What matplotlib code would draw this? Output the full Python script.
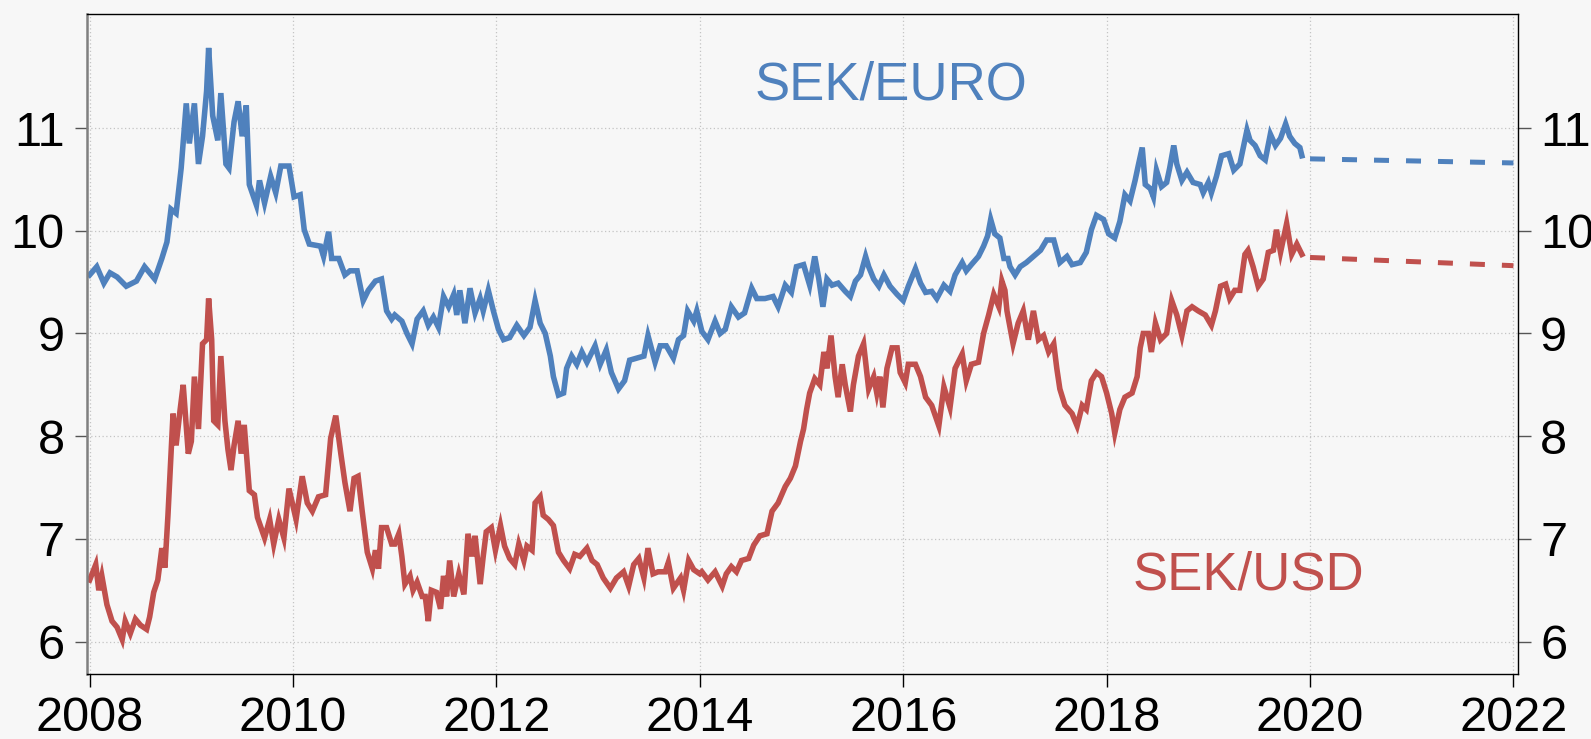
import matplotlib
matplotlib.use("Agg")
import matplotlib.pyplot as plt

# ---------------- data ----------------
eur_years = [
    2008.00, 2008.07, 2008.14, 2008.20, 2008.27, 2008.36, 2008.46, 2008.54, 2008.64, 2008.71,
    2008.76, 2008.80, 2008.85, 2008.90, 2008.95, 2008.98, 2009.03, 2009.07, 2009.11, 2009.15,
    2009.17, 2009.21, 2009.26, 2009.29, 2009.34, 2009.37, 2009.42, 2009.46, 2009.50, 2009.54,
    2009.57, 2009.64, 2009.67, 2009.72, 2009.78, 2009.83, 2009.88, 2009.96, 2010.01, 2010.07,
    2010.11, 2010.16, 2010.27, 2010.30, 2010.35, 2010.38, 2010.45, 2010.51, 2010.56, 2010.63,
    2010.69, 2010.74, 2010.81, 2010.87, 2010.92, 2010.97,
    2011.00, 2011.07, 2011.12, 2011.17, 2011.22, 2011.28, 2011.33, 2011.38, 2011.43, 2011.48,
    2011.53, 2011.58, 2011.61, 2011.64, 2011.69, 2011.74, 2011.79, 2011.84, 2011.87, 2011.92,
    2011.97, 2012.02, 2012.07, 2012.13, 2012.20, 2012.27, 2012.33, 2012.38, 2012.43, 2012.48,
    2012.53, 2012.56, 2012.61, 2012.66, 2012.69, 2012.74, 2012.79, 2012.84, 2012.89, 2012.97,
    2013.02, 2013.08, 2013.13, 2013.20, 2013.26, 2013.31, 2013.38, 2013.45, 2013.49, 2013.56,
    2013.61, 2013.67, 2013.74, 2013.79, 2013.84, 2013.88, 2013.94, 2013.97, 2014.00,
    2014.02, 2014.08, 2014.15, 2014.20, 2014.25, 2014.31, 2014.38, 2014.44, 2014.51, 2014.56,
    2014.64, 2014.72, 2014.77, 2014.84, 2014.90, 2014.95, 2015.02, 2015.05, 2015.08, 2015.13,
    2015.17, 2015.21, 2015.25, 2015.30, 2015.36, 2015.43, 2015.48, 2015.53, 2015.58, 2015.63,
    2015.66, 2015.71, 2015.76, 2015.81, 2015.87, 2015.94, 2016.00, 2016.05, 2016.12, 2016.17,
    2016.22, 2016.28, 2016.33, 2016.40, 2016.46, 2016.51, 2016.58, 2016.62, 2016.67, 2016.74,
    2016.79, 2016.83, 2016.86, 2016.90, 2016.95, 2016.99,
    2017.03, 2017.05, 2017.10, 2017.15, 2017.21, 2017.28, 2017.35, 2017.41, 2017.48, 2017.54,
    2017.61, 2017.66, 2017.74, 2017.80, 2017.85, 2017.90, 2017.97, 2018.02, 2018.08, 2018.13,
    2018.18, 2018.23, 2018.28, 2018.31, 2018.35, 2018.38, 2018.43, 2018.46, 2018.49, 2018.54,
    2018.59, 2018.62, 2018.66, 2018.69, 2018.74, 2018.79, 2018.85, 2018.92, 2018.95, 2019.00,
    2019.03, 2019.08, 2019.13, 2019.20, 2019.25, 2019.31, 2019.38, 2019.41, 2019.46, 2019.51,
    2019.56, 2019.61, 2019.66, 2019.71, 2019.76, 2019.80, 2019.85, 2019.90, 2019.92,
]
eur_values = [
    9.57, 9.65, 9.49, 9.59, 9.55, 9.46, 9.51, 9.65, 9.53, 9.73,
    9.89, 10.21, 10.17, 10.61, 11.24, 10.85, 11.24, 10.65, 10.92, 11.36,
    11.78, 11.12, 10.88, 11.34, 10.65, 10.61, 11.06, 11.26, 10.92, 11.22,
    10.45, 10.25, 10.49, 10.27, 10.53, 10.37, 10.63, 10.63, 10.33, 10.35,
    10.01, 9.87, 9.85, 9.75, 9.99, 9.73, 9.73, 9.57, 9.61, 9.61,
    9.32, 9.42, 9.51, 9.53, 9.22, 9.14,
    9.18, 9.12, 9.00, 8.90, 9.14, 9.22, 9.08, 9.16, 9.06, 9.36,
    9.26, 9.38, 9.18, 9.42, 9.10, 9.44, 9.20, 9.34, 9.22, 9.42,
    9.22, 9.04, 8.94, 8.96, 9.08, 8.98, 9.06, 9.32, 9.10, 9.00,
    8.78, 8.58, 8.40, 8.42, 8.66, 8.78, 8.70, 8.82, 8.72, 8.88,
    8.70, 8.84, 8.62, 8.46, 8.54, 8.74, 8.76, 8.78, 8.98, 8.72,
    8.88, 8.88, 8.76, 8.94, 8.98, 9.22, 9.12, 9.22, 9.10,
    9.02, 8.94, 9.12, 9.00, 9.04, 9.26, 9.16, 9.20, 9.44, 9.34,
    9.34, 9.36, 9.26, 9.47, 9.40, 9.65, 9.67, 9.57, 9.47, 9.75,
    9.53, 9.26, 9.53, 9.47, 9.49, 9.41, 9.36, 9.51, 9.57, 9.75,
    9.65, 9.53, 9.46, 9.57, 9.46, 9.38, 9.32, 9.46, 9.63, 9.49,
    9.40, 9.41, 9.34, 9.47, 9.41, 9.57, 9.69, 9.61, 9.67, 9.75,
    9.85, 9.95, 10.11, 9.97, 9.93, 9.73,
    9.73, 9.65, 9.57, 9.65, 9.69, 9.75, 9.81, 9.91, 9.91, 9.69,
    9.75, 9.67, 9.69, 9.79, 10.01, 10.15, 10.11, 9.97, 9.93, 10.09,
    10.35, 10.29, 10.49, 10.63, 10.81, 10.45, 10.41, 10.33, 10.59, 10.43,
    10.47, 10.61, 10.83, 10.65, 10.49, 10.57, 10.47, 10.45, 10.37, 10.47,
    10.37, 10.53, 10.73, 10.75, 10.59, 10.65, 10.98, 10.88, 10.83, 10.73,
    10.69, 10.94, 10.83, 10.90, 11.04, 10.92, 10.85, 10.81, 10.73,
]

usd_years = [
    2008.00, 2008.06, 2008.09, 2008.12, 2008.17, 2008.22, 2008.27, 2008.32, 2008.35, 2008.40,
    2008.45, 2008.50, 2008.56, 2008.59, 2008.63, 2008.67, 2008.71, 2008.74, 2008.77, 2008.79,
    2008.82, 2008.85, 2008.89, 2008.92, 2008.97, 2009.00, 2009.03, 2009.07, 2009.11, 2009.15,
    2009.17, 2009.20, 2009.22, 2009.26, 2009.29, 2009.33, 2009.36, 2009.39, 2009.42, 2009.46,
    2009.49, 2009.52, 2009.57, 2009.62, 2009.65, 2009.72, 2009.77, 2009.81, 2009.86, 2009.91,
    2009.96, 2010.03, 2010.09, 2010.14, 2010.19, 2010.25, 2010.32, 2010.37, 2010.42, 2010.47,
    2010.51, 2010.56, 2010.60, 2010.64, 2010.68, 2010.73, 2010.78, 2010.81, 2010.84, 2010.87,
    2010.92, 2010.97,
    2011.00, 2011.04, 2011.07, 2011.10, 2011.15, 2011.18, 2011.22, 2011.27, 2011.30, 2011.33,
    2011.36, 2011.41, 2011.45, 2011.48, 2011.51, 2011.54, 2011.58, 2011.63, 2011.68, 2011.72,
    2011.76, 2011.79, 2011.84, 2011.87, 2011.90, 2011.95, 2011.99, 2012.04, 2012.08, 2012.13,
    2012.18, 2012.22, 2012.27, 2012.30, 2012.35, 2012.38, 2012.43, 2012.46, 2012.51, 2012.56,
    2012.61, 2012.66, 2012.72, 2012.77, 2012.82, 2012.89, 2012.94, 2012.99, 2013.05, 2013.12,
    2013.18, 2013.25, 2013.30, 2013.35, 2013.40, 2013.45, 2013.49, 2013.54, 2013.59, 2013.66,
    2013.69, 2013.74, 2013.81, 2013.84, 2013.89, 2013.94, 2014.00,
    2014.02, 2014.08, 2014.15, 2014.22, 2014.26, 2014.31, 2014.36, 2014.41, 2014.48, 2014.53,
    2014.59, 2014.66, 2014.71, 2014.77, 2014.84, 2014.89, 2014.94, 2014.99, 2015.02, 2015.05,
    2015.08, 2015.13, 2015.18, 2015.22, 2015.25, 2015.29, 2015.33, 2015.36, 2015.40, 2015.43,
    2015.48, 2015.51, 2015.56, 2015.61, 2015.66, 2015.71, 2015.74, 2015.77, 2015.80, 2015.84,
    2015.89, 2015.94, 2015.97, 2016.02, 2016.05, 2016.12, 2016.17, 2016.22, 2016.28, 2016.35,
    2016.40, 2016.46, 2016.51, 2016.58, 2016.62, 2016.67, 2016.74, 2016.79, 2016.84, 2016.89,
    2016.94, 2016.97, 2017.00,
    2017.02, 2017.08, 2017.13, 2017.18, 2017.23, 2017.28, 2017.33, 2017.38, 2017.43, 2017.48,
    2017.51, 2017.54, 2017.59, 2017.66, 2017.71, 2017.76, 2017.80, 2017.85, 2017.90, 2017.95,
    2018.00, 2018.05, 2018.08, 2018.13, 2018.18, 2018.25, 2018.30, 2018.33, 2018.36, 2018.41,
    2018.44, 2018.48, 2018.53, 2018.59, 2018.64, 2018.69, 2018.74, 2018.79, 2018.84, 2018.90,
    2018.97, 2019.03, 2019.07, 2019.12, 2019.17, 2019.21, 2019.26, 2019.31, 2019.36, 2019.39,
    2019.44, 2019.49, 2019.54, 2019.59, 2019.64, 2019.67, 2019.71, 2019.77, 2019.82, 2019.87,
    2019.92,
]
usd_values = [
    6.60, 6.75, 6.50, 6.64, 6.36, 6.20, 6.14, 6.02, 6.20, 6.08,
    6.22, 6.16, 6.12, 6.24, 6.48, 6.60, 6.91, 6.72, 7.23, 7.63,
    8.22, 7.91, 8.26, 8.50, 7.83, 7.95, 8.58, 8.07, 8.90, 8.94,
    9.34, 8.94, 8.15, 8.11, 8.78, 8.15, 7.87, 7.67, 7.91, 8.15,
    7.83, 8.11, 7.47, 7.43, 7.21, 7.01, 7.19, 6.95, 7.19, 7.01,
    7.49, 7.19, 7.61, 7.35, 7.27, 7.41, 7.43, 7.98, 8.20, 7.83,
    7.55, 7.27, 7.59, 7.61, 7.27, 6.87, 6.71, 6.89, 6.71, 7.11,
    7.11, 6.95,
    6.95, 7.05, 6.83, 6.56, 6.64, 6.50, 6.58, 6.44, 6.44, 6.20,
    6.50, 6.48, 6.32, 6.64, 6.44, 6.79, 6.44, 6.66, 6.46, 7.05,
    6.83, 7.03, 6.56, 6.83, 7.07, 7.11, 6.89, 7.13, 6.93, 6.81,
    6.75, 6.95, 6.79, 6.93, 6.89, 7.35, 7.41, 7.23, 7.19, 7.13,
    6.87, 6.79, 6.71, 6.85, 6.83, 6.91, 6.79, 6.75, 6.62, 6.52,
    6.62, 6.68, 6.54, 6.75, 6.81, 6.62, 6.91, 6.66, 6.68, 6.68,
    6.77, 6.52, 6.62, 6.50, 6.79, 6.70, 6.66,
    6.68, 6.60, 6.68, 6.54, 6.66, 6.73, 6.68, 6.79, 6.81, 6.94,
    7.03, 7.05, 7.27, 7.35, 7.51, 7.59, 7.71, 7.95, 8.07, 8.26,
    8.42, 8.56, 8.50, 8.82, 8.66, 8.98, 8.58, 8.38, 8.70, 8.50,
    8.24, 8.50, 8.78, 8.90, 8.46, 8.58, 8.42, 8.58, 8.28, 8.66,
    8.86, 8.86, 8.62, 8.52, 8.70, 8.70, 8.58, 8.38, 8.30, 8.10,
    8.48, 8.28, 8.66, 8.80, 8.54, 8.70, 8.72, 9.00, 9.18, 9.38,
    9.26, 9.51, 9.42,
    9.22, 8.90, 9.10, 9.22, 8.94, 9.22, 8.94, 8.98, 8.82, 8.90,
    8.66, 8.46, 8.30, 8.22, 8.10, 8.30, 8.26, 8.54, 8.62, 8.58,
    8.42, 8.22, 8.03, 8.26, 8.38, 8.42, 8.58, 8.86, 9.00, 9.00,
    8.82, 9.10, 8.94, 9.00, 9.32, 9.18, 8.98, 9.22, 9.26, 9.22,
    9.18, 9.08, 9.22, 9.46, 9.48, 9.34, 9.42, 9.42, 9.77, 9.81,
    9.65, 9.46, 9.53, 9.79, 9.81, 10.01, 9.79, 10.07, 9.77, 9.87,
    9.77,
]

forecast_years = [2020.0, 2022.0]
eur_forecast = [10.70, 10.66]
usd_forecast = [9.74, 9.66]

xticks = [2008, 2010, 2012, 2014, 2016, 2018, 2020, 2022]
yticks = [6, 7, 8, 9, 10, 11]

# ---------------- style ----------------
BLUE = "#4f81bd"
RED = "#c0504d"
BG = "#f7f7f7"

plt.rcParams["font.family"] = ["Liberation Sans", "DejaVu Sans"]

fig = plt.figure(figsize=(15.91, 7.39), dpi=100, facecolor=BG)
ax = fig.add_axes([87 / 1591, 1 - 674 / 739, (1518 - 87) / 1591, (674 - 14) / 739])
ax.set_facecolor(BG)

lw = 4.0
ax.plot(eur_years, eur_values, color=BLUE, lw=lw, solid_joinstyle="miter")
ax.plot(usd_years, usd_values, color=RED, lw=lw, solid_joinstyle="miter")
ax.plot(forecast_years, eur_forecast, color=BLUE, lw=3.6, dashes=(3, 3.4))
ax.plot(forecast_years, usd_forecast, color=RED, lw=3.6, dashes=(3, 3.4))

ax.text(2014.54, 11.276, "SEK/EURO", color=BLUE, fontsize=38, ha="left", va="baseline")
ax.text(2018.26, 6.504, "SEK/USD", color=RED, fontsize=38, ha="left", va="baseline")

ax.set_xlim(2007.974, 2022.045)
ax.set_ylim(5.685, 12.11)
ax.set_xticks(xticks)
ax.set_xticklabels([str(t) for t in xticks])
ax.set_yticks(yticks)
ax.set_yticklabels([str(t) for t in yticks])

ax.grid(True, color="#c4c4c4", linestyle=(0, (1, 2)), lw=0.9)
ax.set_axisbelow(True)

ax.tick_params(axis="both", which="both", direction="out", length=9, width=1,
               labelsize=35, pad=7, colors="black")
ax.tick_params(axis="y", left=True, right=True, labelleft=True, labelright=True)
ax.tick_params(axis="y", which="both", color="#555555")

for side in ["top", "right", "bottom"]:
    ax.spines[side].set_color("black")
    ax.spines[side].set_linewidth(1.0)
ax.spines["left"].set_color("#808080")
ax.spines["left"].set_linewidth(1.8)

fig.savefig("out.png", dpi=100, facecolor=BG)
